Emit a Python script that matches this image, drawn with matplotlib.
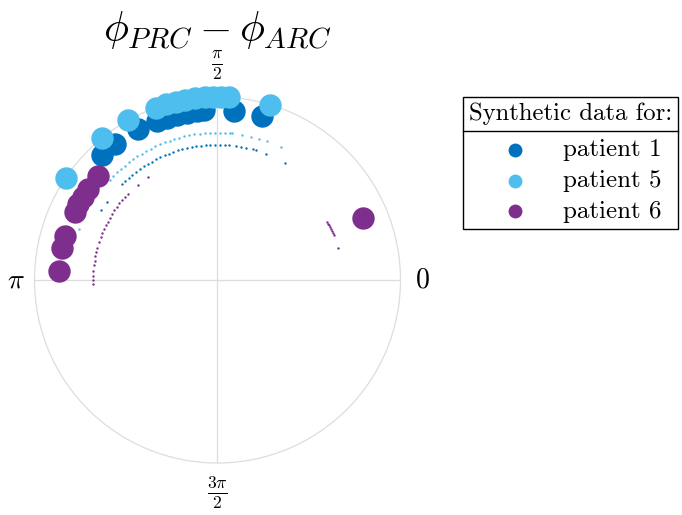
import numpy as np
import matplotlib
matplotlib.use("Agg")
import matplotlib.pyplot as plt
from matplotlib.lines import Line2D

plt.rcParams["font.family"] = "serif"
plt.rcParams["font.serif"] = ["cmr10"]
plt.rcParams["mathtext.fontset"] = "cm"
plt.rcParams["axes.unicode_minus"] = False

# colours (MATLAB default palette)
C1, C5, C6 = "#0072BD", "#4DBEEE", "#7E2F8E"

# big dots: phase difference (deg) per patient, radius (axis units)
p1_big = [132.9, 126.9, 117.8, 110.9, 107.4, 103.9, 100.4, 97.0, 94.7, 84.6, 74.7]
p5_big = [146.1, 129.1, 119.2, 109.7, 106.4, 103.2, 100.1, 97.0, 94.0, 91.5, 88.8, 86.3, 73.2]
p6_big = [139.0, 144.7, 148.4, 151.5, 154.6, 163.8, 168.4, 176.8, 23.1]
r_big = {"p1": 0.93, "p5": 1.0, "p6": 0.865}

# small dots (inner arcs)
p1_small = [149, 145, 134.7, 133, 131, 129, 127, 125, 123, 121, 119, 117, 115, 113, 111, 109,
            107, 105, 103, 101, 99, 97, 95, 93.3, 91, 89, 87, 85, 82, 80, 77.9, 75, 73.5, 68.8, 60]
p5_small = [159.6, 137, 135, 133, 131, 129, 127, 125, 123, 121, 119, 117, 115, 113, 111, 109,
            107, 105, 103, 101, 99, 97, 95, 93, 91, 89, 87, 85, 84.2, 80.3, 76.8, 73.6, 70.3, 64.6]
p6_small = [182, 180, 178, 176, 173, 171, 169, 167, 165, 162, 160, 158, 156, 154, 152, 150,
            148, 146, 144, 142, 140, 138, 136, 130, 124, 28, 27, 26, 25, 24, 23, 22, 21, 15]
r_small = {"p1": 0.74, "p5": 0.805, "p6": 0.68}

tick_deg = [0, 90, 180, 270]
tick_lab = ["$0$", r"$\frac{\pi}{2}$", r"$\pi$", r"$\frac{3\pi}{2}$"]

fig = plt.figure(figsize=(6.82, 5.15), dpi=100)
ax = fig.add_axes([33 / 682, 52 / 515, 369 / 682, 366 / 515], projection="polar")

for key, big, small, col, lab in [("p1", p1_big, p1_small, C1, "patient 1"),
                                   ("p5", p5_big, p5_small, C5, "patient 5"),
                                   ("p6", p6_big, p6_small, C6, "patient 6")]:
    ax.scatter(np.deg2rad(small), np.full(len(small), r_small[key]), s=3, color=col,
               linewidths=0, zorder=3)
    ax.scatter(np.deg2rad(big), np.full(len(big), r_big[key]), s=260, color=col,
               linewidths=0, zorder=4, label=lab, clip_on=False)

ax.set_ylim(0, 1)
ax.set_yticks([])
ax.set_thetagrids(tick_deg, [""] * 4)
ax.grid(True, color="#dddddd", lw=0.9)
ax.spines["polar"].set_color("#dddddd")
ax.spines["polar"].set_linewidth(0.9)

# angle labels (MATLAB-style placement around the circle)
ax.text(1.06, 0.5, tick_lab[0], transform=ax.transAxes, ha="center", va="center", fontsize=20)
ax.text(0.5, 1.086, tick_lab[1], transform=ax.transAxes, ha="center", va="center", fontsize=18)
ax.text(-0.052, 0.5, tick_lab[2], transform=ax.transAxes, ha="center", va="center", fontsize=20)
ax.text(0.5, -0.082, tick_lab[3], transform=ax.transAxes, ha="center", va="center", fontsize=18)

fig.text(218 / 682, 1 - 30 / 515, r"$\phi_{PRC} - \phi_{ARC}$", fontsize=30,
         ha="center", va="center")

leg = fig.legend(loc="upper left", bbox_to_anchor=(463 / 682, 1 - 97 / 515),
                 title="Synthetic data for:", fontsize=18, title_fontsize=17.8,
                 frameon=True, fancybox=False, edgecolor="black", framealpha=1,
                 handletextpad=0.47, handlelength=2.9, markerscale=0.62,
                 labelspacing=0.33, borderpad=0.23, borderaxespad=0)
leg.get_frame().set_linewidth(1.0)
leg._legend_box.sep = 9.8  # a bit more room between title and entries

# separator line under the legend title
fig.canvas.draw()
inv = fig.transFigure.inverted()
lb = leg.get_window_extent()
tb = leg.get_title().get_window_extent()
(x0, y0), (x1, _) = inv.transform([[lb.x0, tb.y0 - 6], [lb.x1, tb.y0 - 6]])
fig.add_artist(Line2D([x0, x1], [y0, y0], transform=fig.transFigure, color="black",
                      lw=1.0, zorder=10))

fig.savefig("out.png", dpi=100)
